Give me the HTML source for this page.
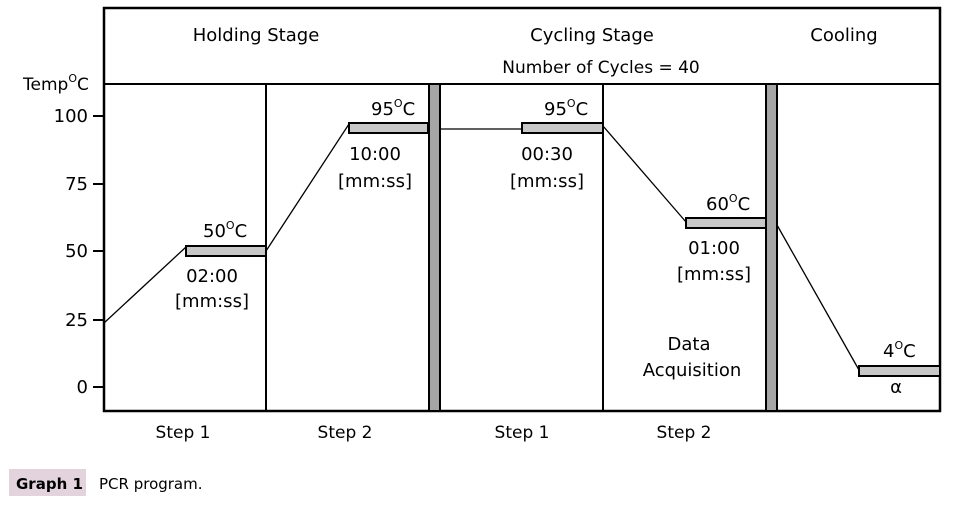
<!DOCTYPE html>
<html><head><meta charset="utf-8"><style>
body{margin:0;background:#fff}
svg text{font-family:"DejaVu Sans","Liberation Sans",sans-serif;fill:#000}
</style></head><body>
<svg width="953" height="502" viewBox="0 0 953 502" xmlns="http://www.w3.org/2000/svg">
<rect x="104" y="8" width="836" height="403" fill="none" stroke="#000" stroke-width="2.5"/>
<line x1="104" y1="84" x2="940" y2="84" stroke="#000" stroke-width="2"/>
<line x1="266" y1="84" x2="266" y2="411" stroke="#000" stroke-width="2"/>
<line x1="603" y1="84" x2="603" y2="411" stroke="#000" stroke-width="2"/>
<rect x="429" y="84" width="11" height="327" fill="#a6a6a6" stroke="#000" stroke-width="2"/>
<rect x="766" y="84" width="11" height="327" fill="#a6a6a6" stroke="#000" stroke-width="2"/>
<g stroke="#000" stroke-width="2">
<line x1="93" y1="116" x2="104" y2="116"/><line x1="93" y1="184" x2="104" y2="184"/>
<line x1="93" y1="251" x2="104" y2="251"/><line x1="93" y1="320" x2="104" y2="320"/>
<line x1="93" y1="387" x2="104" y2="387"/>
</g>
<g stroke="#000" stroke-width="1.3">
<line x1="104" y1="323" x2="186" y2="247"/><line x1="266" y1="251" x2="349" y2="124"/>
<line x1="440" y1="129" x2="522" y2="129"/><line x1="603" y1="126" x2="686" y2="222"/>
<line x1="777" y1="225" x2="859" y2="370"/>
</g>
<g fill="#c8c8c8" stroke="#000" stroke-width="2">
<rect x="186" y="246" width="80" height="10"/><rect x="349" y="123" width="79" height="10"/>
<rect x="522" y="123" width="81" height="10"/><rect x="686" y="218" width="80" height="10"/>
<rect x="859" y="366" width="81" height="10"/>
</g>
<g font-size="18">
<text x="256" y="41" text-anchor="middle">Holding Stage</text>
<text x="592" y="41" text-anchor="middle">Cycling Stage</text>
<text x="844" y="41" text-anchor="middle">Cooling</text>
<text x="601" y="73" text-anchor="middle" font-size="17">Number of Cycles = 40</text>
<text x="23" y="90" font-size="17">Temp<tspan font-size="11" dy="-8">O</tspan><tspan dy="8">C</tspan></text>
<text x="88" y="122" text-anchor="end">100</text><text x="88" y="190" text-anchor="end">75</text>
<text x="88" y="257" text-anchor="end">50</text><text x="88" y="326" text-anchor="end">25</text>
<text x="88" y="393" text-anchor="end">0</text>
<text x="203" y="237">50<tspan font-size="11" dy="-8">O</tspan><tspan dy="8">C</tspan></text>
<text x="212" y="282" text-anchor="middle">02:00</text><text x="212" y="307" text-anchor="middle">[mm:ss]</text>
<text x="371" y="115">95<tspan font-size="11" dy="-8">O</tspan><tspan dy="8">C</tspan></text>
<text x="375" y="160" text-anchor="middle">10:00</text><text x="375" y="187" text-anchor="middle">[mm:ss]</text>
<text x="544" y="115">95<tspan font-size="11" dy="-8">O</tspan><tspan dy="8">C</tspan></text>
<text x="547" y="160" text-anchor="middle">00:30</text><text x="547" y="187" text-anchor="middle">[mm:ss]</text>
<text x="706" y="210">60<tspan font-size="11" dy="-8">O</tspan><tspan dy="8">C</tspan></text>
<text x="714" y="254" text-anchor="middle">01:00</text><text x="714" y="280" text-anchor="middle">[mm:ss]</text>
<text x="689" y="350" text-anchor="middle">Data</text><text x="692" y="376" text-anchor="middle">Acquisition</text>
<text x="883" y="357">4<tspan font-size="11" dy="-8">O</tspan><tspan dy="8">C</tspan></text>
<text x="896" y="393" text-anchor="middle">α</text>
<text x="183" y="438" text-anchor="middle" font-family="Liberation Sans" font-size="17">Step 1</text>
<text x="345" y="438" text-anchor="middle" font-family="Liberation Sans" font-size="17">Step 2</text>
<text x="522" y="438" text-anchor="middle" font-family="Liberation Sans" font-size="17">Step 1</text>
<text x="684" y="438" text-anchor="middle" font-family="Liberation Sans" font-size="17">Step 2</text>
</g>
<rect x="9" y="469" width="77" height="27" fill="#e3d3dd"/>
<text x="16" y="489" font-size="15" font-weight="bold" fill="#222">Graph 1</text>
<text x="99" y="489" font-size="15" fill="#222">PCR program.</text>
</svg>
</body></html>
